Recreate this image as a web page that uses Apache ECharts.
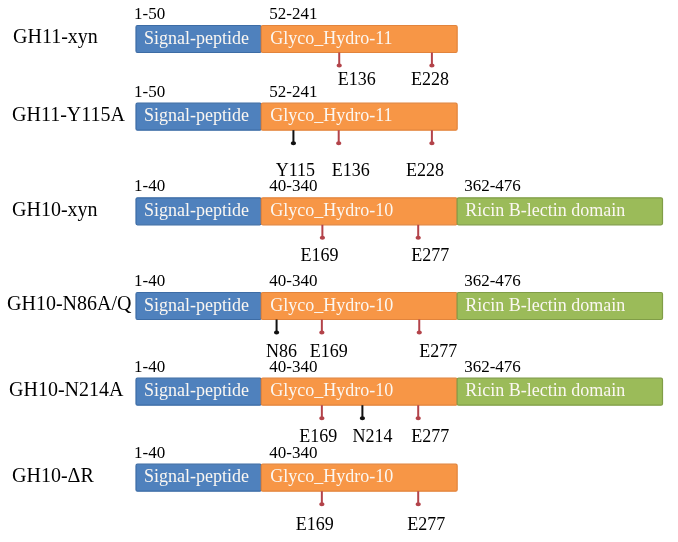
<!DOCTYPE html>
<html>
<head>
<meta charset="utf-8">
<script src="https://cdn.jsdelivr.net/npm/echarts@6/dist/echarts.min.js"></script>
<style>
html,body{margin:0;padding:0;background:#fff;}
#chart{width:678px;height:542px;}
</style>
</head>
<body>
<div id="chart"></div>
<script>
// ---------- DATA ----------
const rowNames = ['GH11-xyn', 'GH11-Y115A', 'GH10-xyn', 'GH10-N86A/Q', 'GH10-N214A', 'GH10-ΔR'];
// domain kinds: 0 = signal peptide, 1 = catalytic (Glyco_Hydro), 2 = Ricin B-lectin
const domainKinds = [[0, 1], [0, 1], [0, 1, 2], [0, 1, 2], [0, 1, 2], [0, 1]];
const domainNames = [
  ['Signal-peptide', 'Glyco_Hydro-11'],
  ['Signal-peptide', 'Glyco_Hydro-11'],
  ['Signal-peptide', 'Glyco_Hydro-10', 'Ricin B-lectin domain'],
  ['Signal-peptide', 'Glyco_Hydro-10', 'Ricin B-lectin domain'],
  ['Signal-peptide', 'Glyco_Hydro-10', 'Ricin B-lectin domain'],
  ['Signal-peptide', 'Glyco_Hydro-10']
];
const domainRanges = [
  ['1-50', '52-241'],
  ['1-50', '52-241'],
  ['1-40', '40-340', '362-476'],
  ['1-40', '40-340', '362-476'],
  ['1-40', '40-340', '362-476'],
  ['1-40', '40-340']
];
// schematic extent of each domain kind (schematic units, not to scale)
const kindStart = [0, 238, 610];
const kindEnd = [238, 610, 1000];
// sites (schematic position along the bar)
const siteNames = [
  ['E136', 'E228'],
  ['Y115', 'E136', 'E228'],
  ['E169', 'E277'],
  ['N86', 'E169', 'E277'],
  ['E169', 'N214', 'E277'],
  ['E169', 'E277']
];
const sitePos = [
  [386, 562],
  [299, 385, 562],
  [354, 536],
  [267, 353, 538],
  [353, 430, 536],
  [353, 536]
];
const siteMutant = [
  [false, false],
  [true, false, false],
  [false, false],
  [true, false, false],
  [false, true, false],
  [false, false]
];

// ---------- LAYOUT (positions / styles) ----------
const rowCenterY = [39, 116.7, 211.3, 306, 391.7, 477.7];
const siteLabelY = [80, 171.7, 256, 352.7, 437.3, 525];
const siteLabelDx = [
  [17.5, -2],
  [2, 12, -7],
  [-3, 12],
  [5, 7, 19],
  [-3.5, 10, 12],
  [-7, 8]
];
const BOX_H = 27;
const rowNameX = [13, 12, 12, 7, 9, 12];
const kindFill = ['#4f81bd', '#f79646', '#9bbb59'];
const kindStroke = ['#3d6ca5', '#e2843c', '#809d47'];
const rangeDx = [-2, 8, 7];
const nameDx = [8, 9, 8];
const SERIF = '"Liberation Serif", "Times New Roman", serif';

// ---------- BUILD ----------
const domainData = [];
domainKinds.forEach((kinds, r) => {
  kinds.forEach((k, i) => {
    domainData.push([kindStart[k], kindEnd[k], r, k, i]);
  });
});
const siteData = [];
sitePos.forEach((arr, r) => {
  arr.forEach((p, i) => siteData.push([p, r, i]));
});
const rowData = rowNames.map((n, r) => [0, r]);

const chart = echarts.init(document.getElementById('chart'), null, {renderer: 'canvas'});
chart.setOption({
  animation: false,
  backgroundColor: '#ffffff',
  grid: {left: 136, right: 15.5, top: 0, bottom: 0},
  xAxis: {type: 'value', min: 0, max: 1000, show: false},
  yAxis: {type: 'value', min: 0, max: 542, inverse: true, show: false},
  series: [
    {
      type: 'custom', silent: true, clip: false,
      data: rowData,
      renderItem: function (params, api) {
        const r = api.value(1);
        const p = api.coord([0, rowCenterY[r]]);
        return {
          type: 'text',
          style: {
            x: rowNameX[r], y: p[1] - 1,
            text: rowNames[r],
            fill: '#000',
            font: '20px ' + SERIF,
            textAlign: 'left', textVerticalAlign: 'middle'
          }
        };
      }
    },
    {
      type: 'custom', silent: true, clip: false,
      data: domainData,
      renderItem: function (params, api) {
        const s = api.value(0), e = api.value(1), r = api.value(2), k = api.value(3), i = api.value(4);
        const p0 = api.coord([s, rowCenterY[r]]);
        const p1 = api.coord([e, rowCenterY[r]]);
        const top = p0[1] - BOX_H / 2;
        return {
          type: 'group',
          children: [
            {
              type: 'rect',
              shape: {x: p0[0], y: top, width: p1[0] - p0[0], height: BOX_H, r: 1.5},
              style: {fill: kindFill[k], stroke: kindStroke[k], lineWidth: 1.2}
            },
            {
              type: 'text',
              style: {
                x: p0[0] + nameDx[k], y: p0[1],
                text: domainNames[r][i],
                fill: '#fbf7f2',
                font: '18px ' + SERIF,
                textAlign: 'left', textVerticalAlign: 'middle'
              }
            },
            {
              type: 'text',
              style: {
                x: p0[0] + rangeDx[k], y: top - 11,
                text: domainRanges[r][i],
                fill: '#000',
                font: '17px ' + SERIF,
                textAlign: 'left', textVerticalAlign: 'middle'
              }
            }
          ]
        };
      }
    },
    {
      type: 'custom', silent: true, clip: false,
      data: siteData,
      renderItem: function (params, api) {
        const x = api.value(0), r = api.value(1), i = api.value(2);
        const p = api.coord([x, rowCenterY[r]]);
        const bottom = p[1] + BOX_H / 2;
        const col = siteMutant[r][i] ? '#111111' : '#b3434a';
        const lbl = api.coord([x, siteLabelY[r]]);
        return {
          type: 'group',
          children: [
            {
              type: 'line',
              shape: {x1: p[0], y1: bottom, x2: p[0], y2: bottom + 13},
              style: {stroke: col, lineWidth: 2}
            },
            {
              type: 'ellipse',
              shape: {cx: p[0], cy: bottom + 13, rx: 2.6, ry: 2},
              style: {fill: col}
            },
            {
              type: 'text',
              style: {
                x: p[0] + siteLabelDx[r][i], y: lbl[1],
                text: siteNames[r][i],
                fill: '#000',
                font: '18px ' + SERIF,
                textAlign: 'center', textVerticalAlign: 'middle'
              }
            }
          ]
        };
      }
    }
  ]
});
</script>
</body>
</html>
